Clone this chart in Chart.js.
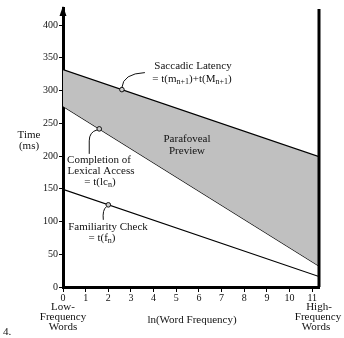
<!DOCTYPE html>
<html>
<head>
<meta charset="utf-8">
<script src="https://cdn.jsdelivr.net/npm/chart.js@4"></script>
<style>
  body { margin: 0; background: #fff; }
</style>
</head>
<body>
<canvas id="chart" width="344" height="338"></canvas>
<script>
// ln(word frequency) at the two ends of the plot
const freqX = [0, 11.3];
// time in ms at low and high frequency
const saccadicLatency = [332, 199];
const lexicalAccess = [276, 32];
const familiarityCheck = [149, 16];
// x position of the small callout circles on each line
const markerX = [2.6, 1.6, 2.0];

const serif = '"Liberation Serif", "Times New Roman", serif';

const toPoints = (ys) => freqX.map((x, i) => ({ x: x, y: ys[i] }));
const lines = [saccadicLatency, lexicalAccess, familiarityCheck];

// y value on a straight series at a given x
const valueAt = (ys, x) =>
  ys[0] + ((ys[1] - ys[0]) * (x - freqX[0])) / (freqX[1] - freqX[0]);

function richText(ctx, parts, cx, y, size) {
  const subSize = Math.round(size * 0.72);
  let w = 0;
  parts.forEach((p) => {
    ctx.font = (p.sub ? subSize : size) + "px " + serif;
    w += ctx.measureText(p.t).width;
  });
  let x = cx - w / 2;
  parts.forEach((p) => {
    ctx.font = (p.sub ? subSize : size) + "px " + serif;
    ctx.fillText(p.t, x, p.sub ? y + 3 : y);
    x += ctx.measureText(p.t).width;
  });
}

const decorations = {
  id: "decorations",
  afterDatasetsDraw(chart) {
    const { ctx, chartArea, scales } = chart;
    const xs = scales.x;
    const ys = scales.y;
    ctx.save();

    // right-hand boundary line
    const rx = xs.getPixelForValue(freqX[1]);
    ctx.strokeStyle = "#000";
    ctx.lineWidth = 3;
    ctx.beginPath();
    ctx.moveTo(rx, chartArea.top + 1);
    ctx.lineTo(rx, chartArea.bottom);
    ctx.stroke();

    // arrow head on the y axis
    const ax = chartArea.left;
    ctx.fillStyle = "#000";
    ctx.beginPath();
    ctx.moveTo(ax, chartArea.top - 2);
    ctx.lineTo(ax - 3.5, chartArea.top + 8);
    ctx.lineTo(ax + 3.5, chartArea.top + 8);
    ctx.closePath();
    ctx.fill();

    // callout circles and their curved leaders
    const m = lines.map((ysr, i) => ({
      x: xs.getPixelForValue(markerX[i]),
      y: ys.getPixelForValue(valueAt(ysr, markerX[i])),
    }));
    ctx.lineWidth = 1;
    ctx.strokeStyle = "#111";

    ctx.beginPath();
    ctx.moveTo(m[0].x, m[0].y - 2);
    ctx.quadraticCurveTo(m[0].x + 1, m[0].y - 16, m[0].x + 23, m[0].y - 17);
    ctx.stroke();

    ctx.beginPath();
    ctx.moveTo(m[1].x - 2, m[1].y + 1);
    ctx.quadraticCurveTo(m[1].x - 10, m[1].y + 3, m[1].x - 10, m[1].y + 12);
    ctx.lineTo(m[1].x - 10, m[1].y + 25);
    ctx.stroke();

    ctx.beginPath();
    ctx.moveTo(m[2].x - 2, m[2].y + 2);
    ctx.quadraticCurveTo(m[2].x - 6, m[2].y + 5, m[2].x - 5, m[2].y + 15);
    ctx.stroke();

    m.forEach((p) => {
      ctx.beginPath();
      ctx.arc(p.x, p.y, 2.3, 0, Math.PI * 2);
      ctx.fillStyle = "#ccc";
      ctx.fill();
      ctx.stroke();
    });

    // texts
    ctx.fillStyle = "#111";
    ctx.textBaseline = "middle";
    ctx.textAlign = "left";
    const t = (s, cx, y) => richText(ctx, [{ t: s }], cx, y, 11);

    t("Saccadic Latency", 193, 66);
    richText(ctx, [
      { t: "= t(m" }, { t: "n+1", sub: true },
      { t: ")+t(M" }, { t: "n+1", sub: true }, { t: ")" },
    ], 192, 79, 11);

    t("Parafoveal", 187, 139);
    t("Preview", 187, 151);

    t("Completion of", 99, 160);
    t("Lexical Access", 101, 171);
    richText(ctx, [{ t: "= t(lc" }, { t: "n", sub: true }, { t: ")" }], 100, 182, 11);

    t("Familiarity Check", 108, 227);
    richText(ctx, [{ t: "= t(f" }, { t: "n", sub: true }, { t: ")" }], 102, 238, 11);

    t("Time", 29, 135);
    t("(ms)", 29, 146);

    t("Low-", 63, 307);
    t("Frequency", 63, 317);
    t("Words", 63, 327);

    t("High-", 319, 307);
    t("Frequency", 318, 317);
    t("Words", 316, 327);

    t("ln(Word Frequency)", 192, 320);

    ctx.font = "11px " + serif;
    ctx.fillText("4.", 3, 332);

    ctx.restore();
  },
};

new Chart(document.getElementById("chart"), {
  type: "line",
  data: {
    datasets: [
      {
        label: "Saccadic Latency",
        data: toPoints(saccadicLatency),
        borderColor: "#000",
        borderWidth: 1.2,
        backgroundColor: "#c0c0c0",
        fill: "+1",
        pointRadius: 0,
      },
      {
        label: "Completion of Lexical Access",
        data: toPoints(lexicalAccess),
        borderColor: "#000",
        borderWidth: 1.2,
        fill: false,
        pointRadius: 0,
      },
      {
        label: "Familiarity Check",
        data: toPoints(familiarityCheck),
        borderColor: "#000",
        borderWidth: 1.2,
        fill: false,
        pointRadius: 0,
      },
    ],
  },
  options: {
    responsive: false,
    animation: false,
    layout: { padding: { top: 8, right: 25, left: 0, bottom: 0 } },
    plugins: {
      legend: { display: false },
      tooltip: { enabled: false },
    },
    scales: {
      x: {
        type: "linear",
        min: freqX[0],
        max: freqX[1],
        afterFit: (s) => { s.height = 51; },
        border: { display: true, color: "#000", width: 3 },
        grid: {
          drawOnChartArea: false,
          drawTicks: true,
          tickLength: 5,
          color: "#000",
          lineWidth: 1,
        },
        ticks: {
          stepSize: 1,
          includeBounds: false,
          autoSkip: false,
          maxRotation: 0,
          padding: 0,
          color: "#111",
          font: { family: serif, size: 10 },
          callback: (v) => (Number.isInteger(v) ? String(v) : null),
        },
      },
      y: {
        min: 0,
        max: 426,
        afterFit: (s) => { s.width = 63; },
        border: { display: true, color: "#000", width: 3 },
        grid: {
          drawOnChartArea: false,
          drawTicks: true,
          tickLength: 4,
          color: "#000",
          lineWidth: 1,
        },
        ticks: {
          stepSize: 50,
          includeBounds: false,
          padding: 1,
          color: "#111",
          font: { family: serif, size: 10 },
          callback: (v) => (v % 50 === 0 ? String(v) : null),
        },
      },
    },
  },
  plugins: [decorations],
});
</script>
</body>
</html>
